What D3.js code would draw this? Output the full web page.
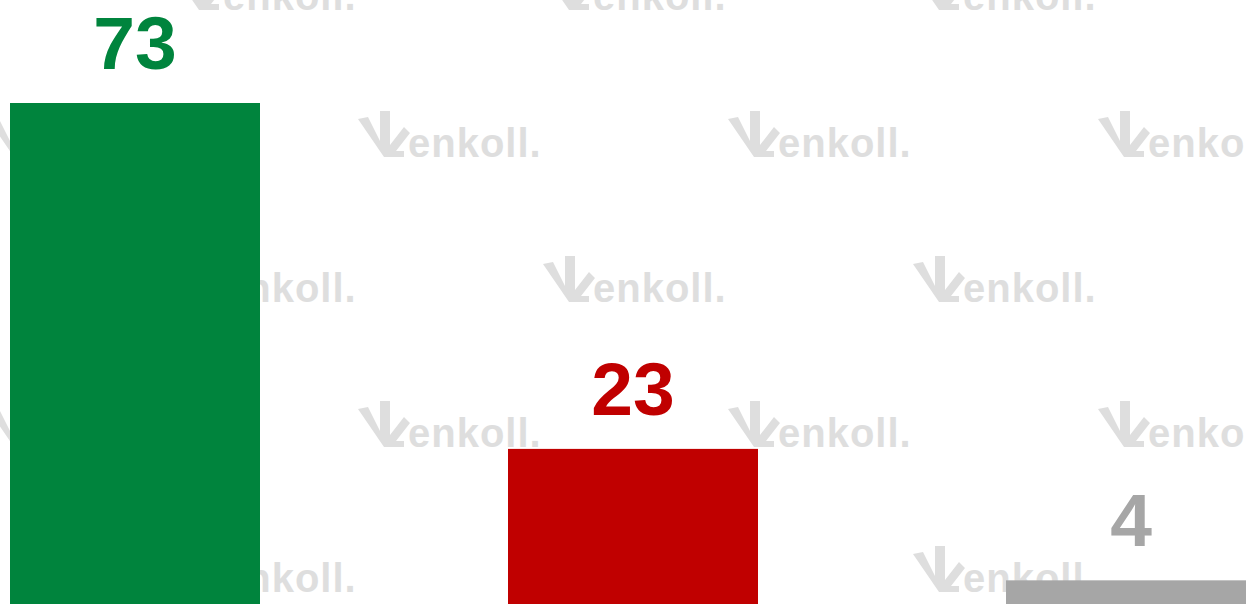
<!DOCTYPE html>
<html>
<head>
<meta charset="utf-8">
<script src="https://cdn.jsdelivr.net/npm/d3@7"></script>
<style>
html,body{margin:0;padding:0;background:#fff;overflow:hidden;}
svg{display:block;}
</style>
</head>
<body>
<svg id="chart" width="1246" height="604"></svg>
<script>
const categories = ["Yes", "No", "Don't know"];
const values = [73, 23, 4];
const colors = ["#00843D", "#C00000", "#A6A6A6"];

const W = 1246, H = 604;
const svg = d3.select("#chart");

// watermark layer
const wmRows = [10, 157, 302, 447, 592];
const wm = svg.append("g").attr("fill", "#dedede");
wmRows.forEach((by, r) => {
  const offset = (r % 2 === 1) ? 358 : 173;
  for (let x = offset - 370; x < W + 100; x += 370) {
    const g = wm.append("g").attr("transform", `translate(${x},${by})`);
    g.append("path")
      .attr("d", "M0,-38 L10,-40 L22,-16 L22,-46 L32,-46 L32,-12 L46,-30 L52,-24 L38,-6 L46,-6 L46,0 L26,0 Z");
    g.append("text")
      .attr("x", 50).attr("y", 0)
      .attr("font-family", "Liberation Sans, Arial, sans-serif")
      .attr("font-weight", "bold").attr("font-size", 40)
      .attr("letter-spacing", 1)
      .text("enkoll.");
  }
});

const x = d3.scaleBand().domain(categories).range([10, 1256]).paddingInner(0.498).paddingOuter(0);
const y = d3.scaleLinear().domain([0, 73]).range([608, 103]);

svg.append("g").selectAll("rect").data(values).join("rect")
  .attr("x", (d, i) => x(categories[i]))
  .attr("width", x.bandwidth())
  .attr("y", d => y(d))
  .attr("height", d => y(0) - y(d))
  .attr("fill", (d, i) => colors[i]);

svg.append("g").selectAll("text").data(values).join("text")
  .attr("x", (d, i) => x(categories[i]) + x.bandwidth() / 2)
  .attr("y", d => y(d) - 34)
  .attr("text-anchor", "middle")
  .attr("font-family", "Liberation Sans, Arial, sans-serif")
  .attr("font-weight", "bold")
  .attr("font-size", 75)
  .attr("fill", (d, i) => colors[i])
  .text(d => d);
</script>
</body>
</html>
